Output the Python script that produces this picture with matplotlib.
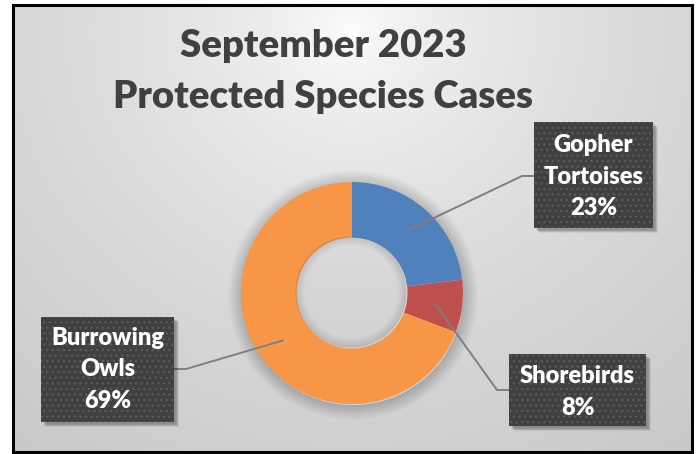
import numpy as np
import matplotlib
matplotlib.use("Agg")
import matplotlib.pyplot as plt
from matplotlib.patches import Rectangle, Wedge

# Daten (Anzahl Fälle pro Art)
species = ["Gopher\nTortoises", "Shorebirds", "Burrowing\nOwls"]
cases = [3, 1, 9]
colors = ["#4F81BD", "#C0504D", "#F79646"]
title_lines = ["September 2023", "Protected Species Cases"]

W, H = 697, 454
FONT = ["Lato", "DejaVu Sans"]


def py(y):
    # Pixel-y (von oben) in Achsen-y (von unten)
    return H - y


fig = plt.figure(figsize=(W / 100, H / 100), dpi=100)
fig.patch.set_facecolor("white")
ax = fig.add_axes([0, 0, 1, 1])

# Hintergrund: radialer Verlauf innerhalb des Rahmens
x0, x1, y0, y1 = 12, 692, 5, 451
xx, yy = np.meshgrid(np.linspace(x0, x1, 400), np.linspace(y0, y1, 300))
d = np.sqrt(((xx - 350) / 350) ** 2 + ((yy - 30) / 330) ** 2)
val = 1 - 0.16 * d ** 0.6
img = np.dstack([val, val, val])
ax.imshow(img, extent=(x0, x1, py(y1), py(y0)), origin="upper",
          interpolation="bilinear", zorder=0, aspect="auto")

# Donut
cx, cy, r_out = 352, 293, 111
ring = 0.5
r_in = r_out * (1 - ring)

# weicher Schatten um den Ring (nur aussen)
for i in range(14):
    ax.add_patch(Wedge((cx + 1, py(cy + 2)), r_out + 14 - i, 0, 360,
                       width=14 - i + 1, color="black", alpha=0.013, lw=0,
                       zorder=1))

wedges, _ = ax.pie(cases, colors=colors, startangle=90, counterclock=False,
                   center=(cx, py(cy)), radius=r_out,
                   wedgeprops=dict(width=r_out * ring, linewidth=0))
for w in wedges:
    w.set_zorder(2)

# Schatten im Loch
ax.add_patch(Wedge((cx, py(cy)), r_in, 0, 360, color="black", alpha=0.02,
                   lw=0, zorder=2.4))
for i in range(9):
    ax.add_patch(Wedge((cx - 1, py(cy - 1)), r_in, 0, 360, width=i + 1,
                       color="black", alpha=0.012, lw=0, zorder=2.5))

# Beschriftungsboxen (links, oben, rechts, unten in Pixeln)
boxes = [(534, 122, 653, 228), (509, 354, 646, 426), (41, 317, 174, 422)]
baselines = [[152, 183.5, 215], [383, 415], [345, 376.5, 408]]
knees = [(522, 176), (497, 390), (186, 369)]
ends = [(534, 176), (509, 390), (174, 369)]

total = sum(cases)
start = 90.0
for i, (name, n) in enumerate(zip(species, cases)):
    span = 360.0 * n / total
    mid = np.deg2rad(start - span / 2)
    start -= span
    r_mid = r_out * (1 - ring / 2)
    ax_ = cx + r_mid * np.cos(mid)
    ay_ = py(cy) + r_mid * np.sin(mid)

    kx, ky = knees[i]
    ex, ey = ends[i]
    ax.plot([ax_, kx, ex], [ay_, py(ky), py(ey)], color="#7f7f7f", lw=1.4,
            solid_capstyle="butt", zorder=3)

    l, t, rgt, b = boxes[i]
    for k in range(6):
        ax.add_patch(Rectangle((l + 2 + k * 0.6, py(b + 2 + k * 0.6)),
                               rgt - l, b - t, color="black", alpha=0.06,
                               lw=0, zorder=3.5))
    ax.add_patch(Rectangle((l, py(b)), rgt - l, b - t, facecolor="#404040",
                           edgecolor="#5a5a5a", hatch="...", lw=0, zorder=4))

    pct = f"{round(100 * n / total)}%"
    lines = name.split("\n") + [pct]
    xc = (l + rgt) / 2
    for txt, bl in zip(lines, baselines[i]):
        ax.text(xc, py(bl), txt, ha="center", va="baseline", color="white",
                fontsize=17, fontweight=800, family=FONT, zorder=5)

# Titel
for txt, bl in zip(title_lines, [57, 108]):
    ax.text(323, py(bl), txt, ha="center", va="baseline", color="#404040",
            fontsize=27.5, fontweight=800, family=FONT, zorder=5)

# Rahmen
ax.add_patch(Rectangle((12.5, py(451.5)), 692 - 12.5, 451.5 - 5,
                       fill=False, edgecolor="black", lw=2.2, zorder=6))

ax.set_xlim(0, W)
ax.set_ylim(0, H)
ax.set_aspect("auto")
ax.axis("off")

fig.savefig("out.png", dpi=100)
